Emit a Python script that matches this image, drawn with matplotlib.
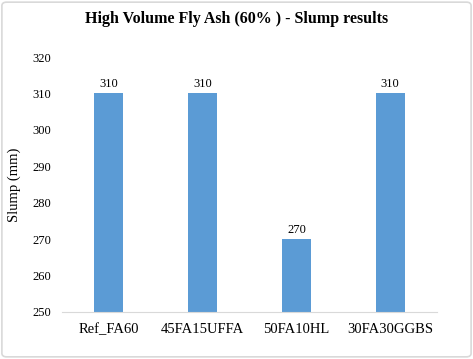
import matplotlib
matplotlib.use("Agg")
from matplotlib import pyplot as plt
from matplotlib.patches import FancyBboxPatch

mixes = ["Ref_FA60", "45FA15UFFA", "50FA10HL", "30FA30GGBS"]
slump_mm = [310, 310, 270, 310]
y_ticks = [250, 260, 270, 280, 290, 300, 310, 320]

plt.rcParams["font.family"] = ["Liberation Serif", "DejaVu Serif"]

fig = plt.figure(figsize=(4.73, 3.59), dpi=100)
ax = fig.add_axes([0.131, 0.131, 0.793, 0.71])

positions = range(len(mixes))
ax.bar(positions, slump_mm, width=0.31, color="#5B9BD5", bottom=0)
ax.set_ylim(250, 320)
ax.set_xlim(-0.5, len(mixes) - 0.5)
ax.set_yticks(y_ticks)
ax.set_xticks(list(positions))
ax.set_xticklabels(mixes, fontsize=10.5)
ax.tick_params(axis="y", labelsize=9, length=0, pad=8)
ax.tick_params(axis="x", length=0, pad=8)

for spine in ["top", "right", "left"]:
    ax.spines[spine].set_visible(False)
ax.spines["bottom"].set_color("#d9d9d9")

ax.set_ylabel("Slump (mm)", fontsize=10.5, labelpad=8)

# value labels above the bars
for x, v in zip(positions, slump_mm):
    ax.text(x, v + 1, str(v), ha="center", va="bottom", fontsize=9)

fig.text(0.5, 0.948, "High Volume Fly Ash (60% ) - Slump results",
         ha="center", va="center", fontsize=11.5, fontweight="bold")

# light frame around the chart area
frame = FancyBboxPatch((0.004, 0.006), 0.992, 0.988,
                       boxstyle="round,pad=0,rounding_size=0.01",
                       transform=fig.transFigure, fill=False,
                       edgecolor="#d9d9d9", linewidth=1.2)
fig.patches.append(frame)

fig.savefig("out.png", dpi=100)
